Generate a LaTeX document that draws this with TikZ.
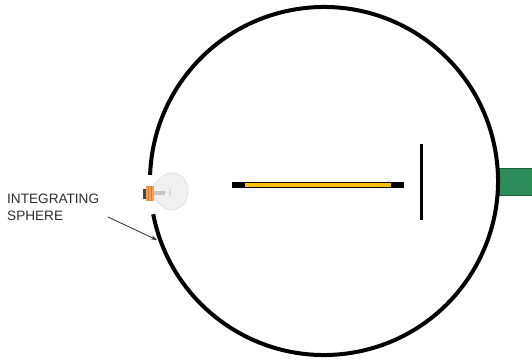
\documentclass[tikz,border=0pt]{standalone}
\usepackage{fontspec}
\setmainfont{Liberation Sans}
\usetikzlibrary{arrows.meta}
\definecolor{rodyellow}{RGB}{255,192,0}
\definecolor{portgreen}{RGB}{46,139,90}
\definecolor{labelgray}{RGB}{45,45,45}
\definecolor{basecol}{RGB}{247,160,80}
\tikzset{
  sphere/.style={line width=4pt, black},
  baffle/.style={line width=3pt, black},
  labeltext/.style={inner sep=0pt, align=left, text=labelgray,
    font=\fontsize{13.6}{17}\selectfont},
  pointer/.style={draw=labelgray, line width=0.8pt, -{Stealth[length=6pt,width=4pt]}},
  glass/.style={fill=gray!12, draw=gray!28, line width=0.6pt},
}
\begin{document}
\begin{tikzpicture}[x=1pt,y=1pt]
\useasboundingbox (0,0) rectangle (532,362);
% exit port
\fill[portgreen, draw=portgreen!70!black, line width=0.5pt] (499,167) rectangle (534,194);
% sphere wall with the lamp opening on the left
\coordinate (c) at (324,181);
\draw[sphere] (c) ++(191:174pt) arc[start angle=191, end angle=538, radius=174pt];
% sample rod
\fill[black] (232,174) rectangle (404,180);
\fill[rodyellow] (245,175.2) rectangle (391,178.8);
% baffle
\draw[baffle] (421.5,142) -- (421.5,218);
% lamp: flared glass envelope
\path[glass] (153,177) .. controls (159,181) and (162,188) .. (170,189)
  .. controls (182,190) and (188,180) .. (188,170.5)
  .. controls (188,161) and (182,152) .. (170,152)
  .. controls (162,153) and (159,160) .. (153,164) -- cycle;
% lamp: stem and filament
\fill[gray!45] (153,167.5) rectangle (165,171.5);
\draw[gray!40, line width=0.4pt] (165,169.5) -- (171,169.5) (169,166) -- (171,173) (171,166) -- (169,173);
% lamp: screw base
\fill[basecol] (145.5,161) rectangle (153.5,176);
\draw[basecol!80!black, line width=0.3pt] (148,161) -- (148,176) (150.8,161) -- (150.8,176);
\fill[gray!55!black] (143,163.5) rectangle (145.8,173.5);
% label and pointer
\node[labeltext, anchor=north west] (label) at (7,168) {INTEGRATING\\SPHERE};
\coordinate (wall) at (157,122);
\draw[pointer] (108,145) -- (wall);
\end{tikzpicture}
\end{document}
